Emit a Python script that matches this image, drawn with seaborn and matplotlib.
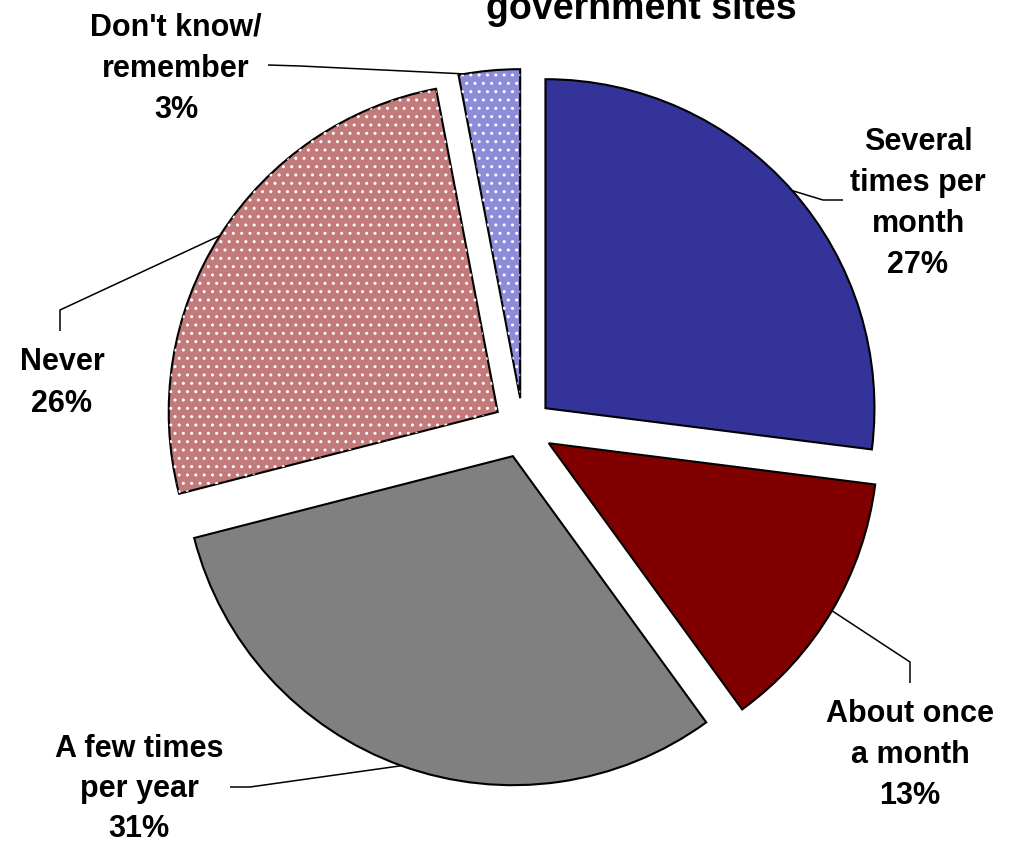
import numpy as np
import matplotlib
matplotlib.use("Agg")
import matplotlib.pyplot as plt
from matplotlib.patches import Wedge
import seaborn as sns

# data
categories = ["Several\ntimes per\nmonth", "About once\na month", "A few times\nper year",
              "Never", "Don't know/\nremember"]
shares = [27, 13, 31, 26, 3]
title_text = "government sites"

colors = ["#333399", "#800000", "#808080", "#c27a7a", "#8c8cd8"]
hatches = [None, None, None, "..", ".."]

W, H = 1009, 842
CX, CY, R = 523, 428, 329   # pie centre and radius, in pixels


def px(x, y):
    # pixel position (from top-left) -> data coords of the pie axes
    return (x - CX) / R, (CY - y) / R


# label layout in pixels: centre x, baselines, leader knee and end
label_x = [918, 910, 139, 62, 176]
label_base = [[150, 191, 232, 273], [722, 763, 804], [757, 797, 837], [370, 412], [35, 77, 118]]
leader_knee = [(823, 200), (910, 662), (250, 787), (60, 310), (300, 66)]
leader_end = [(843, 200), (910, 683), (230, 787), (60, 331), (268, 65)]
anchor_frac = [0.5, 0.5, 0.5, 0.5, 0.9]

sns.set_theme(style="white")
plt.rcParams["font.family"] = ["Liberation Sans", "DejaVu Sans"]
plt.rcParams["hatch.linewidth"] = 1.0
plt.rcParams["text.color"] = "black"

fig = plt.figure(figsize=(W / 100, H / 100), dpi=100)
ax = fig.add_axes([0, 0, 1, 1])

wedges, _ = ax.pie(shares, colors=colors, startangle=90, counterclock=False,
                   explode=[0.091] * len(shares), radius=1,
                   wedgeprops=dict(edgecolor="black", linewidth=1.5))

# white dot pattern on top of the light slices
for w, h in zip(wedges, hatches):
    if h:
        ax.add_patch(Wedge(w.center, w.r, w.theta1, w.theta2, facecolor="none",
                           edgecolor="white", linewidth=0, hatch=h))

for i, w in enumerate(wedges):
    ang = np.deg2rad(w.theta1 + anchor_frac[i] * (w.theta2 - w.theta1))
    x0 = w.center[0] + w.r * np.cos(ang)
    y0 = w.center[1] + w.r * np.sin(ang)
    kx, ky = px(*leader_knee[i])
    ex, ey = px(*leader_end[i])
    ax.plot([x0, kx, ex], [y0, ky, ey], color="black", lw=1.1, solid_capstyle="butt")

    lines = categories[i].split("\n") + [f"{shares[i]}%"]
    for line, base in zip(lines, label_base[i]):
        tx, ty = px(label_x[i], base)
        ax.text(tx, ty, line, ha="center", va="baseline", fontsize=22,
                fontweight="bold", color="black")

tx, ty = px(641, 19)
ax.text(tx, ty, title_text, ha="center", va="baseline", fontsize=27,
        fontweight="bold", color="black")

ax.set_xlim(px(0, 0)[0], px(W, 0)[0])
ax.set_ylim(px(0, H)[1], px(0, 0)[1])
ax.axis("off")

fig.savefig("out.png", dpi=100)
plt.close(fig)
